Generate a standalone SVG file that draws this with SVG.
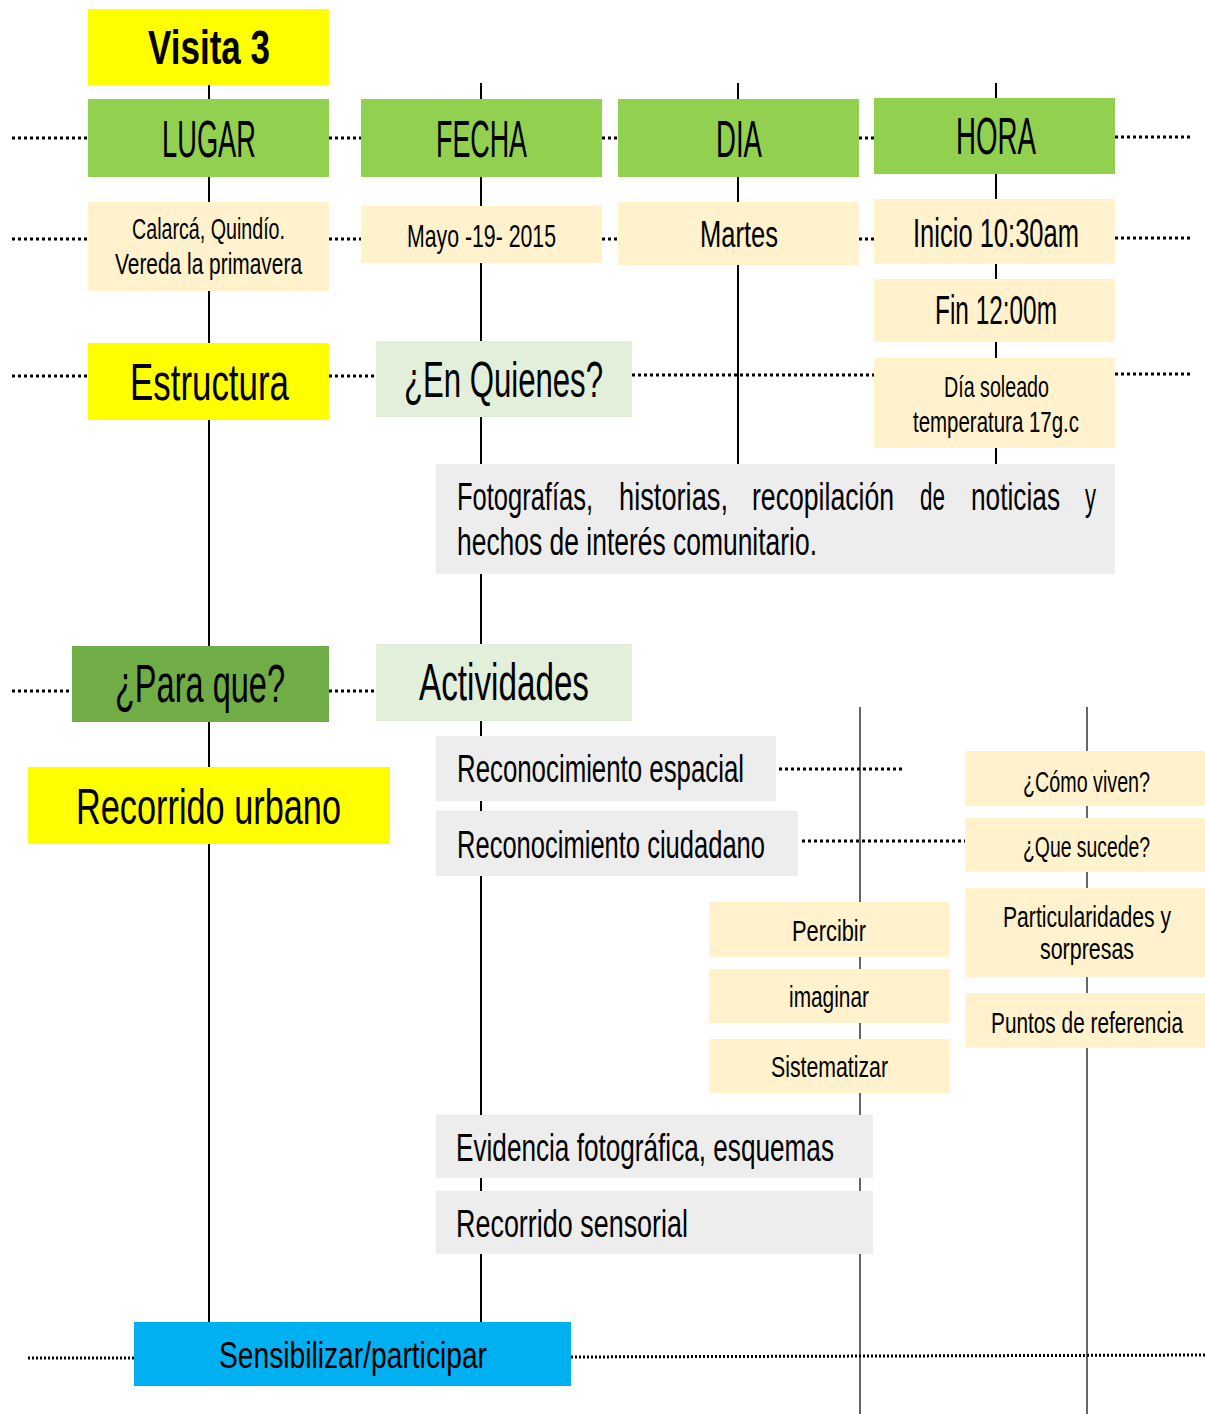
<svg xmlns="http://www.w3.org/2000/svg" width="1205" height="1414" viewBox="0 0 1205 1414">
<style>
text{font-family:"Liberation Sans Narrow","Liberation Sans",Arial,sans-serif;fill:#000;}
.yl{fill:#FFFF00}.gr{fill:#92D050}.cr{fill:#FFF2CC}.lg{fill:#E2EFDA}.gy{fill:#EDEDED}.dg{fill:#70AD47}.bl{fill:#00B0F0}
.v{stroke:#000;stroke-width:2;fill:none}
.vt{stroke:#000;stroke-width:1.2;fill:none}
.d{stroke:#000;stroke-width:3;stroke-dasharray:3 3;fill:none}
.d2{stroke:#000;stroke-width:3;stroke-dasharray:2 2;fill:none}
</style>
<rect width="1205" height="1414" fill="#fff"/>
<g id="connectors">
<line class="v" x1="209" y1="85" x2="209" y2="1322"/>
<line class="v" x1="481" y1="83" x2="481" y2="1322"/>
<line class="v" x1="738" y1="83" x2="738" y2="464"/>
<line class="v" x1="996" y1="83" x2="996" y2="464"/>
<line class="vt" x1="860" y1="707" x2="860" y2="1414"/>
<line class="vt" x1="1087" y1="707" x2="1087" y2="1414"/>
<path class="d" d="M12 138H88M329 138H361M602 138H618M859 138H874M1115 137H1192"/>
<path class="d" d="M12 239H88M329 239H361M602 239H618M859 239H874M1115 238H1192"/>
<path class="d" d="M12 376H88M329 376H376M632 375H874M1115 374H1192"/>
<path class="d" d="M12 691H72M329 691H376"/>
<path class="d" d="M779 769H905"/>
<path class="d" d="M802 841H965"/>
<path class="d2" d="M28 1358H134M571 1357L1205 1355"/>
</g>
<g id="visita3"><rect class="yl" x="88" y="9" width="241" height="76"/><text x="148" y="64" font-size="49" font-weight="bold" textLength="122" lengthAdjust="spacingAndGlyphs">Visita 3</text></g>
<g id="lugar"><rect class="gr" x="88" y="99" width="241" height="78"/><text x="162" y="157" font-size="52" textLength="94" lengthAdjust="spacingAndGlyphs">LUGAR</text></g>
<g id="fecha"><rect class="gr" x="361" y="99" width="241" height="78"/><text x="436" y="157" font-size="52" textLength="91" lengthAdjust="spacingAndGlyphs">FECHA</text></g>
<g id="dia"><rect class="gr" x="618" y="99" width="241" height="78"/><text x="716" y="157" font-size="52" textLength="46" lengthAdjust="spacingAndGlyphs">DIA</text></g>
<g id="hora"><rect class="gr" x="874" y="98" width="241" height="76"/><text x="956" y="154" font-size="52" textLength="80" lengthAdjust="spacingAndGlyphs">HORA</text></g>
<g id="calarca"><rect class="cr" x="88" y="202" width="241" height="89"/>
<text x="132" y="239" font-size="29" textLength="153" lengthAdjust="spacingAndGlyphs">Calarcá, Quindío.</text>
<text x="115" y="274" font-size="29" textLength="187" lengthAdjust="spacingAndGlyphs">Vereda la primavera</text></g>
<g id="mayo"><rect class="cr" x="361" y="206" width="241" height="57"/><text x="407" y="247" font-size="32" textLength="149" lengthAdjust="spacingAndGlyphs">Mayo -19- 2015</text></g>
<g id="martes"><rect class="cr" x="618" y="202" width="241" height="63"/><text x="700" y="247" font-size="37" textLength="78" lengthAdjust="spacingAndGlyphs">Martes</text></g>
<g id="inicio"><rect class="cr" x="874" y="199" width="241" height="65"/><text x="913" y="247" font-size="40" textLength="166" lengthAdjust="spacingAndGlyphs">Inicio 10:30am</text></g>
<g id="fin"><rect class="cr" x="874" y="279" width="241" height="63"/><text x="935" y="324" font-size="40" textLength="122" lengthAdjust="spacingAndGlyphs">Fin 12:00m</text></g>
<g id="clima"><rect class="cr" x="874" y="358" width="241" height="90"/>
<text x="944" y="397" font-size="30" textLength="105" lengthAdjust="spacingAndGlyphs">Día soleado</text>
<text x="913" y="432" font-size="30" textLength="166" lengthAdjust="spacingAndGlyphs">temperatura 17g.c</text></g>
<g id="estructura"><rect class="yl" x="88" y="343" width="241" height="77"/><text x="130" y="400" font-size="52" textLength="159" lengthAdjust="spacingAndGlyphs">Estructura</text></g>
<g id="enquienes"><rect class="lg" x="376" y="341" width="256" height="76"/><text x="404" y="397" font-size="50" textLength="199" lengthAdjust="spacingAndGlyphs">¿En Quienes?</text></g>
<g id="fotografias"><rect class="gy" x="436" y="464" width="679" height="110"/>
<text y="510" font-size="38"><tspan x="457" textLength="136" lengthAdjust="spacingAndGlyphs">Fotografías,</tspan></text>
<text y="510" font-size="38"><tspan x="619" textLength="109" lengthAdjust="spacingAndGlyphs">historias,</tspan></text>
<text y="510" font-size="38"><tspan x="752" textLength="142" lengthAdjust="spacingAndGlyphs">recopilación</tspan></text>
<text y="510" font-size="38"><tspan x="920" textLength="25" lengthAdjust="spacingAndGlyphs">de</tspan></text>
<text y="510" font-size="38"><tspan x="971" textLength="89" lengthAdjust="spacingAndGlyphs">noticias</tspan></text>
<text y="510" font-size="38"><tspan x="1085" textLength="11" lengthAdjust="spacingAndGlyphs">y</tspan></text>
<text x="457" y="555" font-size="38" textLength="360" lengthAdjust="spacingAndGlyphs">hechos de interés comunitario.</text></g>
<g id="paraque"><rect class="dg" x="72" y="646" width="257" height="76"/><text x="115" y="702" font-size="54" textLength="170" lengthAdjust="spacingAndGlyphs">¿Para que?</text></g>
<g id="actividades"><rect class="lg" x="376" y="644" width="256" height="77"/><text x="419" y="700" font-size="52" textLength="170" lengthAdjust="spacingAndGlyphs">Actividades</text></g>
<g id="recorridourbano"><rect class="yl" x="28" y="767" width="362" height="77"/><text x="76" y="824" font-size="50" textLength="265" lengthAdjust="spacingAndGlyphs">Recorrido urbano</text></g>
<g id="recespacial"><rect class="gy" x="436" y="736" width="340" height="65"/><text x="457" y="782" font-size="38" textLength="287" lengthAdjust="spacingAndGlyphs">Reconocimiento espacial</text></g>
<g id="recciudadano"><rect class="gy" x="436" y="811" width="362" height="65"/><text x="457" y="858" font-size="38" textLength="308" lengthAdjust="spacingAndGlyphs">Reconocimiento ciudadano</text></g>
<g id="comoviven"><rect class="cr" x="965" y="751" width="240" height="55"/><text x="1023" y="792" font-size="30" textLength="127" lengthAdjust="spacingAndGlyphs">¿Cómo viven?</text></g>
<g id="quesucede"><rect class="cr" x="965" y="818" width="240" height="54"/><text x="1023" y="857" font-size="30" textLength="127" lengthAdjust="spacingAndGlyphs">¿Que sucede?</text></g>
<g id="particularidades"><rect class="cr" x="965" y="888" width="240" height="89"/>
<text x="1003" y="927" font-size="30" textLength="168" lengthAdjust="spacingAndGlyphs">Particularidades y</text>
<text x="1040" y="959" font-size="30" textLength="94" lengthAdjust="spacingAndGlyphs">sorpresas</text></g>
<g id="puntos"><rect class="cr" x="965" y="993" width="240" height="55"/><text x="991" y="1033" font-size="30" textLength="192" lengthAdjust="spacingAndGlyphs">Puntos de referencia</text></g>
<g id="percibir"><rect class="cr" x="709" y="902" width="241" height="55"/><text x="792" y="941" font-size="30" textLength="74" lengthAdjust="spacingAndGlyphs">Percibir</text></g>
<g id="imaginar"><rect class="cr" x="709" y="969" width="241" height="54"/><text x="789" y="1007" font-size="30" textLength="80" lengthAdjust="spacingAndGlyphs">imaginar</text></g>
<g id="sistematizar"><rect class="cr" x="709" y="1039" width="241" height="54"/><text x="771" y="1077" font-size="30" textLength="117" lengthAdjust="spacingAndGlyphs">Sistematizar</text></g>
<g id="evidencia"><rect class="gy" x="436" y="1115" width="437" height="63"/><text x="456" y="1161" font-size="39" textLength="378" lengthAdjust="spacingAndGlyphs">Evidencia fotográfica, esquemas</text></g>
<g id="sensorial"><rect class="gy" x="436" y="1191" width="437" height="63"/><text x="456" y="1237" font-size="39" textLength="232" lengthAdjust="spacingAndGlyphs">Recorrido sensorial</text></g>
<g id="sensibilizar"><rect class="bl" x="134" y="1322" width="437" height="64"/><text x="219" y="1368" font-size="36" textLength="268" lengthAdjust="spacingAndGlyphs">Sensibilizar/participar</text></g>
</svg>
